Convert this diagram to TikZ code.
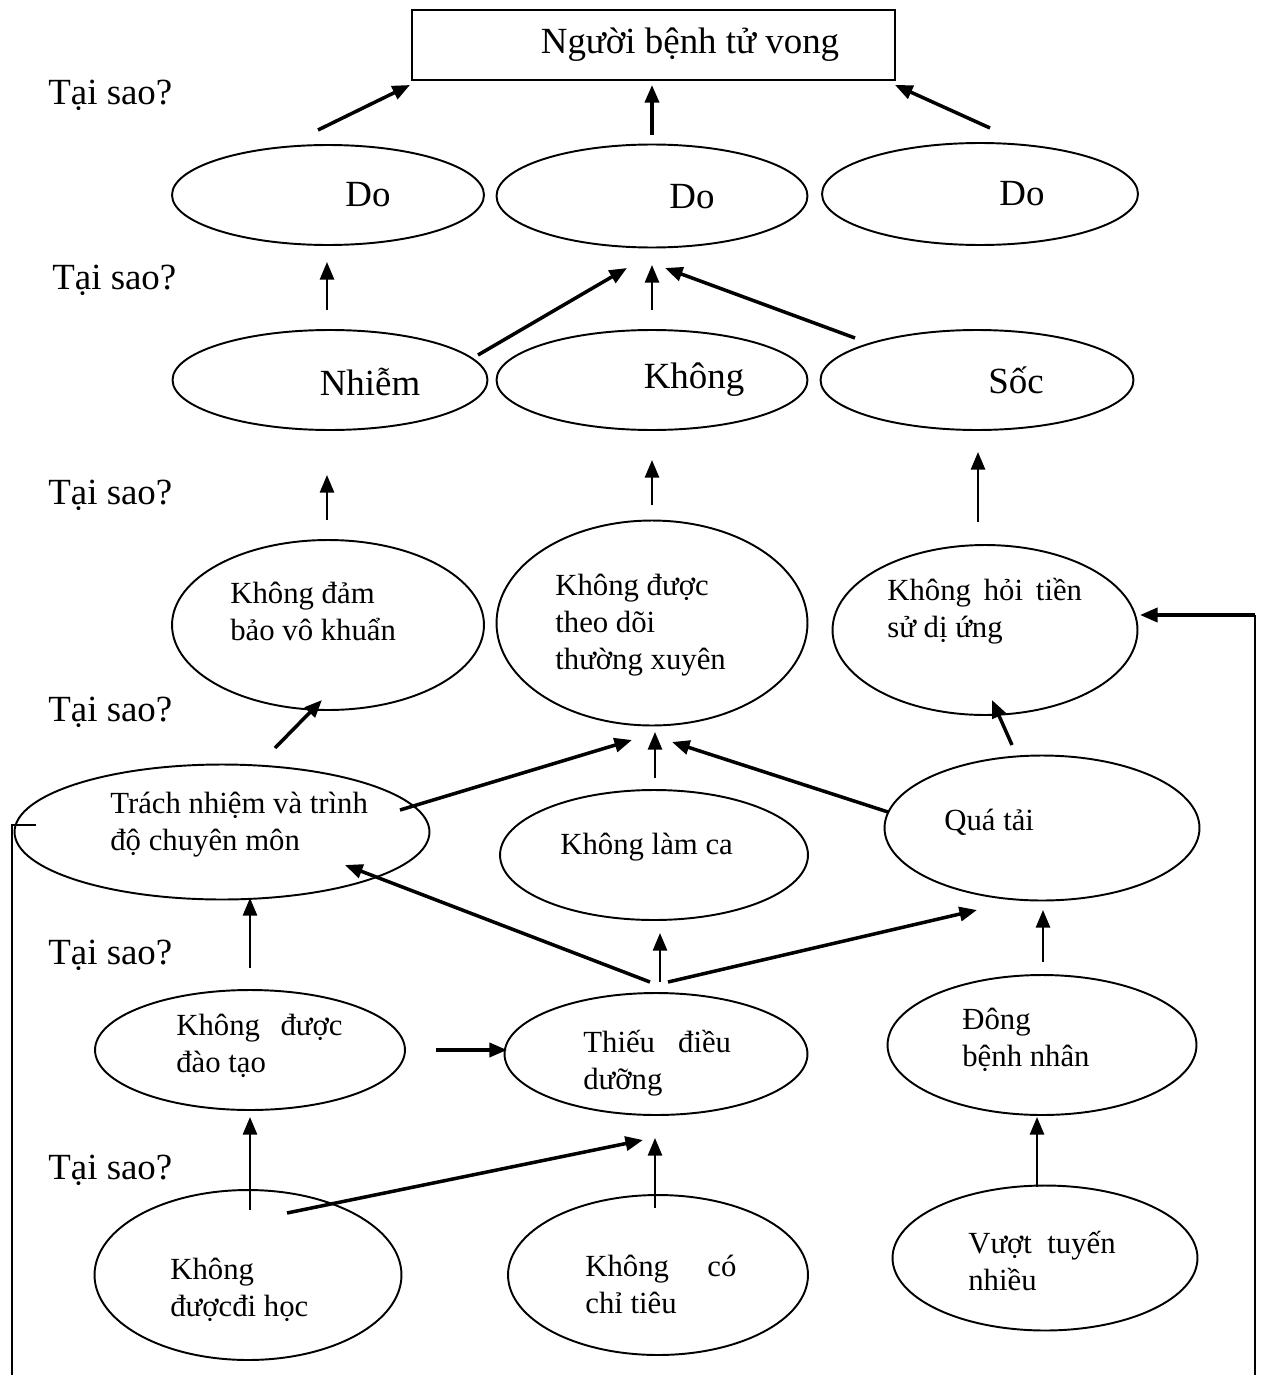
\documentclass[tikz,border=0pt]{standalone}
\usepackage{fontspec}
\setmainfont{Liberation Serif}
\usetikzlibrary{shapes.geometric,arrows.meta}
\begin{document}
\begin{tikzpicture}[x=0.02cm,y=-0.02cm,
  ov/.style={draw,ellipse,line width=1.1pt,inner sep=0pt},
  big/.style={font=\fontsize{21}{25}\selectfont,inner sep=0pt},
  sm/.style={font=\fontsize{17.5}{21}\selectfont,inner sep=0pt,anchor=west,align=left},
  arr/.style={line width=1.4pt,-{Triangle[length=10pt,width=8pt]}},
  thk/.style={line width=2pt,-{Triangle[length=10pt,width=8pt]}},
  ln/.style={line width=1.2pt}]
\useasboundingbox (0,0) rectangle (1265,1375);

% top box
\node[draw,line width=1.1pt,minimum width=9.66cm,minimum height=1.4cm,inner sep=0pt] (top) at (653.5,45) {};
\node[big] (toptxt) at (690,45) {Người bệnh tử vong};

% Tại sao labels
\node[big,anchor=west] (q1) at (48,95) {Tại sao?};
\node[big,anchor=west] (q2) at (52,280) {Tại sao?};
\node[big,anchor=west] (q3) at (48,495) {Tại sao?};
\node[big,anchor=west] (q4) at (48,712) {Tại sao?};
\node[big,anchor=west] (q5) at (48,955) {Tại sao?};
\node[big,anchor=west] (q6) at (48,1170) {Tại sao?};

% row 1
\node[ov,minimum width=6.24cm,minimum height=2.0cm] (d1) at (328,195) {};
\node[ov,minimum width=6.22cm,minimum height=2.06cm] (d2) at (652,196) {};
\node[ov,minimum width=6.32cm,minimum height=2.04cm] (d3) at (980,194) {};
\node[big] (d1t) at (368,195) {Do};
\node[big] (d2t) at (692,197) {Do};
\node[big] (d3t) at (1022,194) {Do};

% row 2
\node[ov,minimum width=6.3cm,minimum height=2.0cm] (n1) at (330,380) {};
\node[ov,minimum width=6.22cm,minimum height=2.0cm] (n2) at (652,380) {};
\node[ov,minimum width=6.26cm,minimum height=2.0cm] (n3) at (977,380) {};
\node[big] (n1t) at (370,382) {Nhiễm};
\node[big] (n2t) at (694,380) {Không};
\node[big] (n3t) at (1016,380) {Sốc};

% row 3
\node[ov,minimum width=6.24cm,minimum height=3.4cm] (r3a) at (328,625) {};
\node[ov,minimum width=6.22cm,minimum height=4.1cm] (r3b) at (652,623) {};
\node[ov,minimum width=6.1cm,minimum height=3.4cm] (r3c) at (985,630) {};
\node[sm] (r3at) at (230,611) {Không đảm\\bảo vô khuẩn};
\node[sm] (r3bt) at (555,625) {Không được\\theo dõi\\thường xuyên};
\node[sm] (r3ct) at (887,611) {Không \,hỏi \,tiền\\sử dị ứng};

% row 4
\node[ov,minimum width=8.3cm,minimum height=2.7cm] (r4a) at (222,832) {};
\node[ov,minimum width=6.16cm,minimum height=2.6cm] (r4b) at (654,855) {};
\node[ov,minimum width=6.3cm,minimum height=2.9cm] (r4c) at (1042,828) {};
\node[sm] (r4at) at (110,825) {Trách nhiệm và trình\\độ chuyên môn};
\node[sm] (r4bt) at (560,847) {Không làm ca};
\node[sm] (r4ct) at (944,822) {Quá tải};

% row 5
\node[ov,minimum width=6.2cm,minimum height=2.4cm] (r5a) at (250,1050) {};
\node[ov,minimum width=6.06cm,minimum height=2.44cm] (r5b) at (656,1054) {};
\node[ov,minimum width=6.18cm,minimum height=2.8cm] (r5c) at (1042,1045) {};
\node[sm] (r5at) at (176,1046) {Không \ \,được\\đào tạo};
\node[sm] (r5bt) at (583,1063) {Thiếu \ \ điều\\dưỡng};
\node[sm] (r5ct) at (962,1040) {Đông\\bệnh nhân};

% row 6
\node[ov,minimum width=6.14cm,minimum height=3.4cm] (r6a) at (248,1275) {};
\node[ov,minimum width=6.0cm,minimum height=3.2cm] (r6b) at (658,1275) {};
\node[ov,minimum width=6.1cm,minimum height=2.9cm] (r6c) at (1045,1258) {};
\node[sm] (r6at) at (170,1290) {Không\\đượcđi học};
\node[sm] (r6bt) at (585,1284) {Không \quad có\\chỉ tiêu};
\node[sm] (r6ct) at (968,1261) {Vượt \ tuyến\\nhiều};

% arrow coordinates
\coordinate (a1s) at (318,130); \coordinate (a1e) at (410,85);
\coordinate (a2s) at (652,135); \coordinate (a2e) at (652,85);
\coordinate (a3s) at (990,128); \coordinate (a3e) at (895,85);
\draw[thk] (a1s) -- (a1e);
\draw[thk] (a2s) -- (a2e);
\draw[thk] (a3s) -- (a3e);

\coordinate (b1s) at (327,310); \coordinate (b1e) at (327,262);
\coordinate (b2s) at (478,355); \coordinate (b2e) at (627,268);
\coordinate (b3s) at (652,310); \coordinate (b3e) at (652,265);
\coordinate (b4s) at (855,338); \coordinate (b4e) at (665,268);
\draw[arr] (b1s) -- (b1e);
\draw[thk] (b2s) -- (b2e);
\draw[arr] (b3s) -- (b3e);
\draw[thk] (b4s) -- (b4e);

\coordinate (c1s) at (327,520); \coordinate (c1e) at (327,475);
\coordinate (c2s) at (652,505); \coordinate (c2e) at (652,460);
\coordinate (c3s) at (978,522); \coordinate (c3e) at (978,452);
\draw[arr] (c1s) -- (c1e);
\draw[arr] (c2s) -- (c2e);
\draw[arr] (c3s) -- (c3e);

\coordinate (e1s) at (275,748); \coordinate (e1e) at (322,700);
\coordinate (e2s) at (400,810); \coordinate (e2e) at (632,740);
\coordinate (e3s) at (655,778); \coordinate (e3e) at (655,732);
\coordinate (e4s) at (888,812); \coordinate (e4e) at (672,742);
\coordinate (e5s) at (1012,745); \coordinate (e5e) at (992,700);
\draw[thk] (e1s) -- (e1e);
\draw[thk] (e2s) -- (e2e);
\draw[arr] (e3s) -- (e3e);
\draw[thk] (e4s) -- (e4e);
\draw[thk] (e5s) -- (e5e);

% side lines
\coordinate (rb) at (1255,1375); \coordinate (rt) at (1255,615);
\coordinate (re) at (1140,615);
\draw[ln] (rb) -- (rt);
\draw[thk] (rt) -- (re);
\coordinate (lb) at (12,1375); \coordinate (lt) at (12,825); \coordinate (lh) at (36,825);
\draw[ln] (lb) -- (lt) -- (lh);

% row 5 -> row 4
\coordinate (f1s) at (250,968); \coordinate (f1e) at (250,898);
\coordinate (f2s) at (650,982); \coordinate (f2e) at (345,865);
\coordinate (f3s) at (660,982); \coordinate (f3e) at (660,933);
\coordinate (f4s) at (668,982); \coordinate (f4e) at (977,910);
\coordinate (f5s) at (1043,962); \coordinate (f5e) at (1043,910);
\coordinate (f6s) at (436,1050); \coordinate (f6e) at (507,1050);
\draw[arr] (f1s) -- (f1e);
\draw[thk] (f2s) -- (f2e);
\draw[arr] (f3s) -- (f3e);
\draw[thk] (f4s) -- (f4e);
\draw[arr] (f5s) -- (f5e);
\draw[thk] (f6s) -- (f6e);

% row 6 -> row 5
\coordinate (g1s) at (250,1210); \coordinate (g1e) at (250,1117);
\coordinate (g2s) at (287,1213); \coordinate (g2e) at (643,1140);
\coordinate (g3s) at (655,1208); \coordinate (g3e) at (655,1138);
\coordinate (g4s) at (1037,1187); \coordinate (g4e) at (1037,1117);
\draw[arr] (g1s) -- (g1e);
\draw[thk] (g2s) -- (g2e);
\draw[arr] (g3s) -- (g3e);
\draw[arr] (g4s) -- (g4e);
\end{tikzpicture}
\end{document}
